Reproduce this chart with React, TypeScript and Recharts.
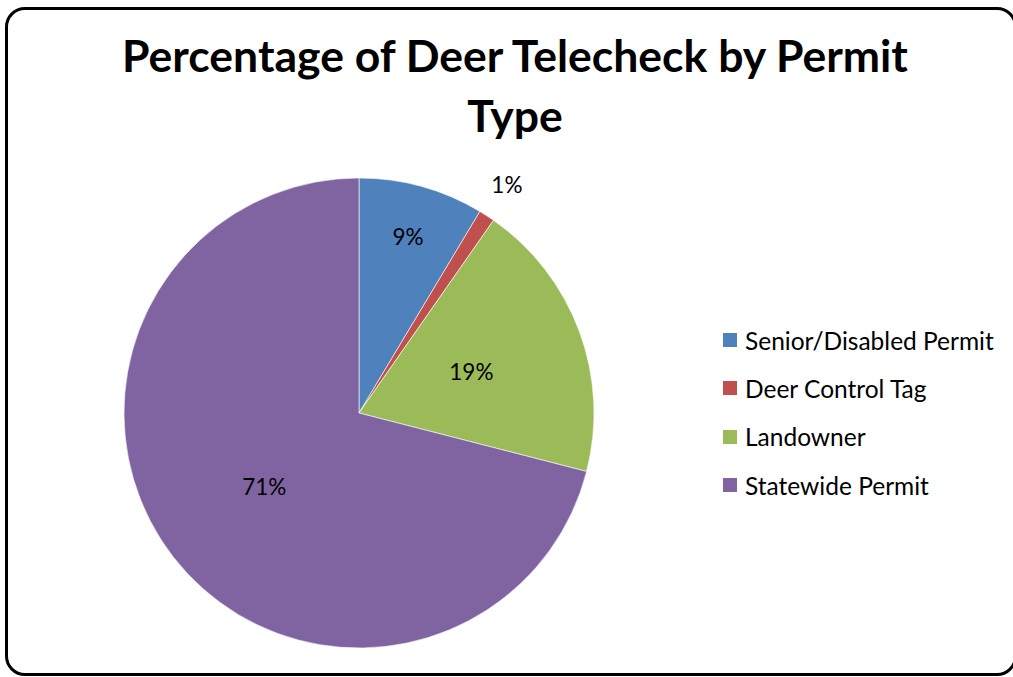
import { Legend, Pie, PieChart, Cell } from 'recharts'

const categories = ['Senior/Disabled Permit', 'Deer Control Tag', 'Landowner', 'Statewide Permit']
const shares = [8.6, 1.1, 19.3, 71.0]
const colors = ['#4F81BD', '#C0504D', '#9BBB59', '#8064A2']
const titleLines = ['Percentage of Deer Telecheck by Permit', 'Type']

const data = categories.map((name, i) => ({ name, value: shares[i] }))

const FONT = 'Lato, "Open Sans", sans-serif'
const RAD = Math.PI / 180

const renderLabel = (props: any) => {
  const { cx, cy, midAngle, outerRadius, percent } = props
  let r = outerRadius * 0.51
  if (percent < 0.02) r = outerRadius + 37
  else if (percent < 0.1) r = outerRadius * 0.78
  const x = cx + r * Math.cos(-midAngle * RAD)
  const y = cy + r * Math.sin(-midAngle * RAD)
  return (
    <text
      x={x}
      y={y}
      textAnchor="middle"
      dominantBaseline="central"
      fill="#000"
      fontFamily={FONT}
      fontSize={22.5}
    >
      {Math.round(percent * 100) + '%'}
    </text>
  )
}

// legend drawn from the arrays so the order and colours stay fixed
const renderLegend = () => (
  <div style={{ fontFamily: FONT, fontSize: 24.5, color: '#000' }}>
    {categories.map((name, i) => (
      <div key={name} style={{ display: 'flex', alignItems: 'center', height: 48.3 }}>
        <span
          style={{
            display: 'inline-block',
            width: 14,
            height: 14,
            background: colors[i],
            marginRight: 8,
          }}
        />
        <span>{name}</span>
      </div>
    ))}
  </div>
)

export default function App() {
  return (
    <div
      style={{
        position: 'absolute',
        left: 0,
        top: 0,
        width: 1013,
        height: 677,
        overflow: 'hidden',
        background: '#fff',
      }}
    >
      <div
        style={{
          position: 'absolute',
          left: 5,
          top: 7,
          width: 1012,
          height: 669,
          boxSizing: 'border-box',
          border: '3px solid #000',
          borderRadius: 20,
        }}
      />
      <div
        style={{
          position: 'absolute',
          left: 0,
          top: 25,
          width: 1030,
          textAlign: 'center',
          fontFamily: FONT,
          fontWeight: 'bold',
          fontSize: 44.5,
          lineHeight: '60px',
          color: '#000',
        }}
      >
        {titleLines.map((t, i) => (
          <div key={i}>{t}</div>
        ))}
      </div>
      <div style={{ position: 'absolute', left: 0, top: 0 }}>
        <PieChart width={1013} height={677} margin={{ top: 0, right: 0, bottom: 0, left: 0 }}>
          <Pie
            data={data}
            dataKey="value"
            nameKey="name"
            cx={359}
            cy={413}
            outerRadius={235}
            startAngle={90}
            endAngle={-270}
            stroke="#ffffff"
            strokeWidth={0.6}
            label={renderLabel}
            labelLine={false}
            isAnimationActive={false}
          >
            {data.map((d, i) => (
              <Cell key={d.name} fill={colors[i]} />
            ))}
          </Pie>
          <Legend
            layout="vertical"
            verticalAlign="middle"
            align="right"
            content={renderLegend}
            wrapperStyle={{ left: 723, top: 316, width: 290 }}
          />
        </PieChart>
      </div>
    </div>
  )
}
